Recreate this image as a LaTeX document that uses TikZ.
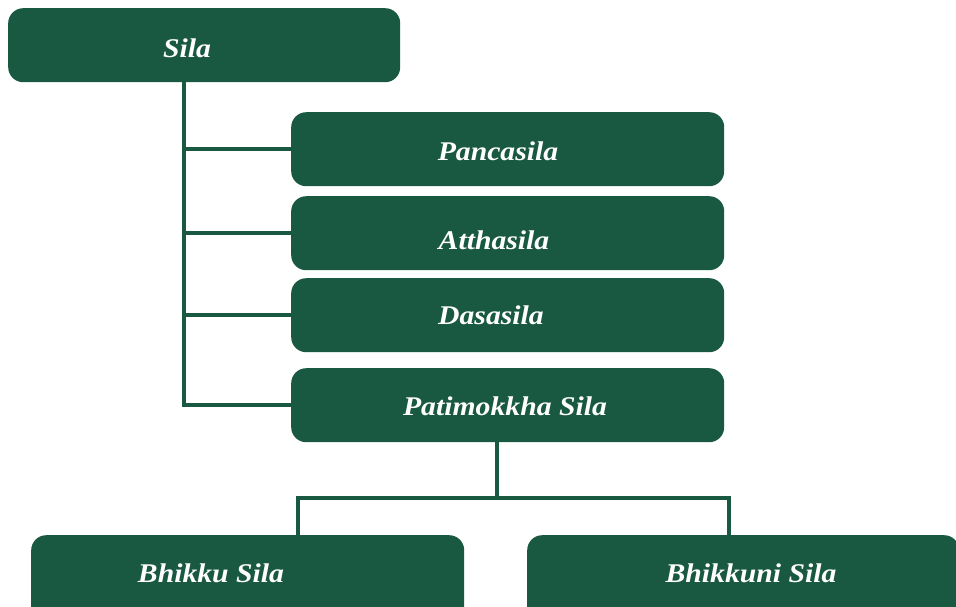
\documentclass[tikz,border=0pt]{standalone}
\usepackage{fontspec}
\setmainfont{Liberation Serif}
\newfontfamily\boxfont[FakeStretch=1.1]{Liberation Serif}
\definecolor{silagreen}{RGB}{25,89,66}
\begin{document}
\begin{tikzpicture}[x=1pt,y=-1pt,
  box/.style={draw=none,fill=silagreen,rounded corners=15pt,inner sep=0pt,anchor=north west},
  lbl/.style={text=white,font=\boxfont\fontsize{27}{31}\selectfont\bfseries\itshape,anchor=base,inner sep=0pt},
  link/.style={draw=silagreen,line width=4pt,line cap=rect}]
\useasboundingbox (0,0) rectangle (956,606);
\clip (0,0) rectangle (956,606);
% boxes
\node[box,minimum width=392pt,minimum height=74pt] (sila) at (8,8) {};
\node[box,minimum width=433pt,minimum height=74pt] (pancasila) at (291,112) {};
\node[box,minimum width=433pt,minimum height=74pt] (atthasila) at (291,196) {};
\node[box,minimum width=433pt,minimum height=74pt] (dasasila) at (291,278) {};
\node[box,minimum width=433pt,minimum height=74pt] (patimokkha) at (291,368) {};
\node[box,minimum width=433pt,minimum height=90pt] (bhikku) at (31,535) {};
\node[box,minimum width=432pt,minimum height=90pt] (bhikkuni) at (527,535) {};
% labels
\node[lbl] (tsila) at (187,57) {Sila};
\node[lbl] (tpancasila) at (498,160) {Pancasila};
\node[lbl] (tatthasila) at (494,249) {Atthasila};
\node[lbl] (tdasasila) at (491,324) {Dasasila};
\node[lbl] (tpatimokkha) at (505,415) {Patimokkha Sila};
\node[lbl] (tbhikku) at (211,582) {Bhikku Sila};
\node[lbl] (tbhikkuni) at (751,582) {Bhikkuni Sila};
% connector anchors
\coordinate (trunk) at (184,82);
\coordinate (stem) at (497,498);
\coordinate (busL) at (298,498);
\coordinate (busR) at (729,498);
% trunk from Sila to the four kinds
\draw[link] (sila.south -| trunk) |- (patimokkha.west);
\draw[link] (trunk |- pancasila.west) -- (pancasila.west);
\draw[link] (trunk |- atthasila.west) -- (atthasila.west);
\draw[link] (trunk |- dasasila.west) -- (dasasila.west);
% Patimokkha branches
\draw[link] (stem |- patimokkha.south) -- (stem);
\draw[link] (busL |- bhikku.north) -- (busL) -- (busR) -- (busR |- bhikkuni.north);
\end{tikzpicture}
\end{document}
